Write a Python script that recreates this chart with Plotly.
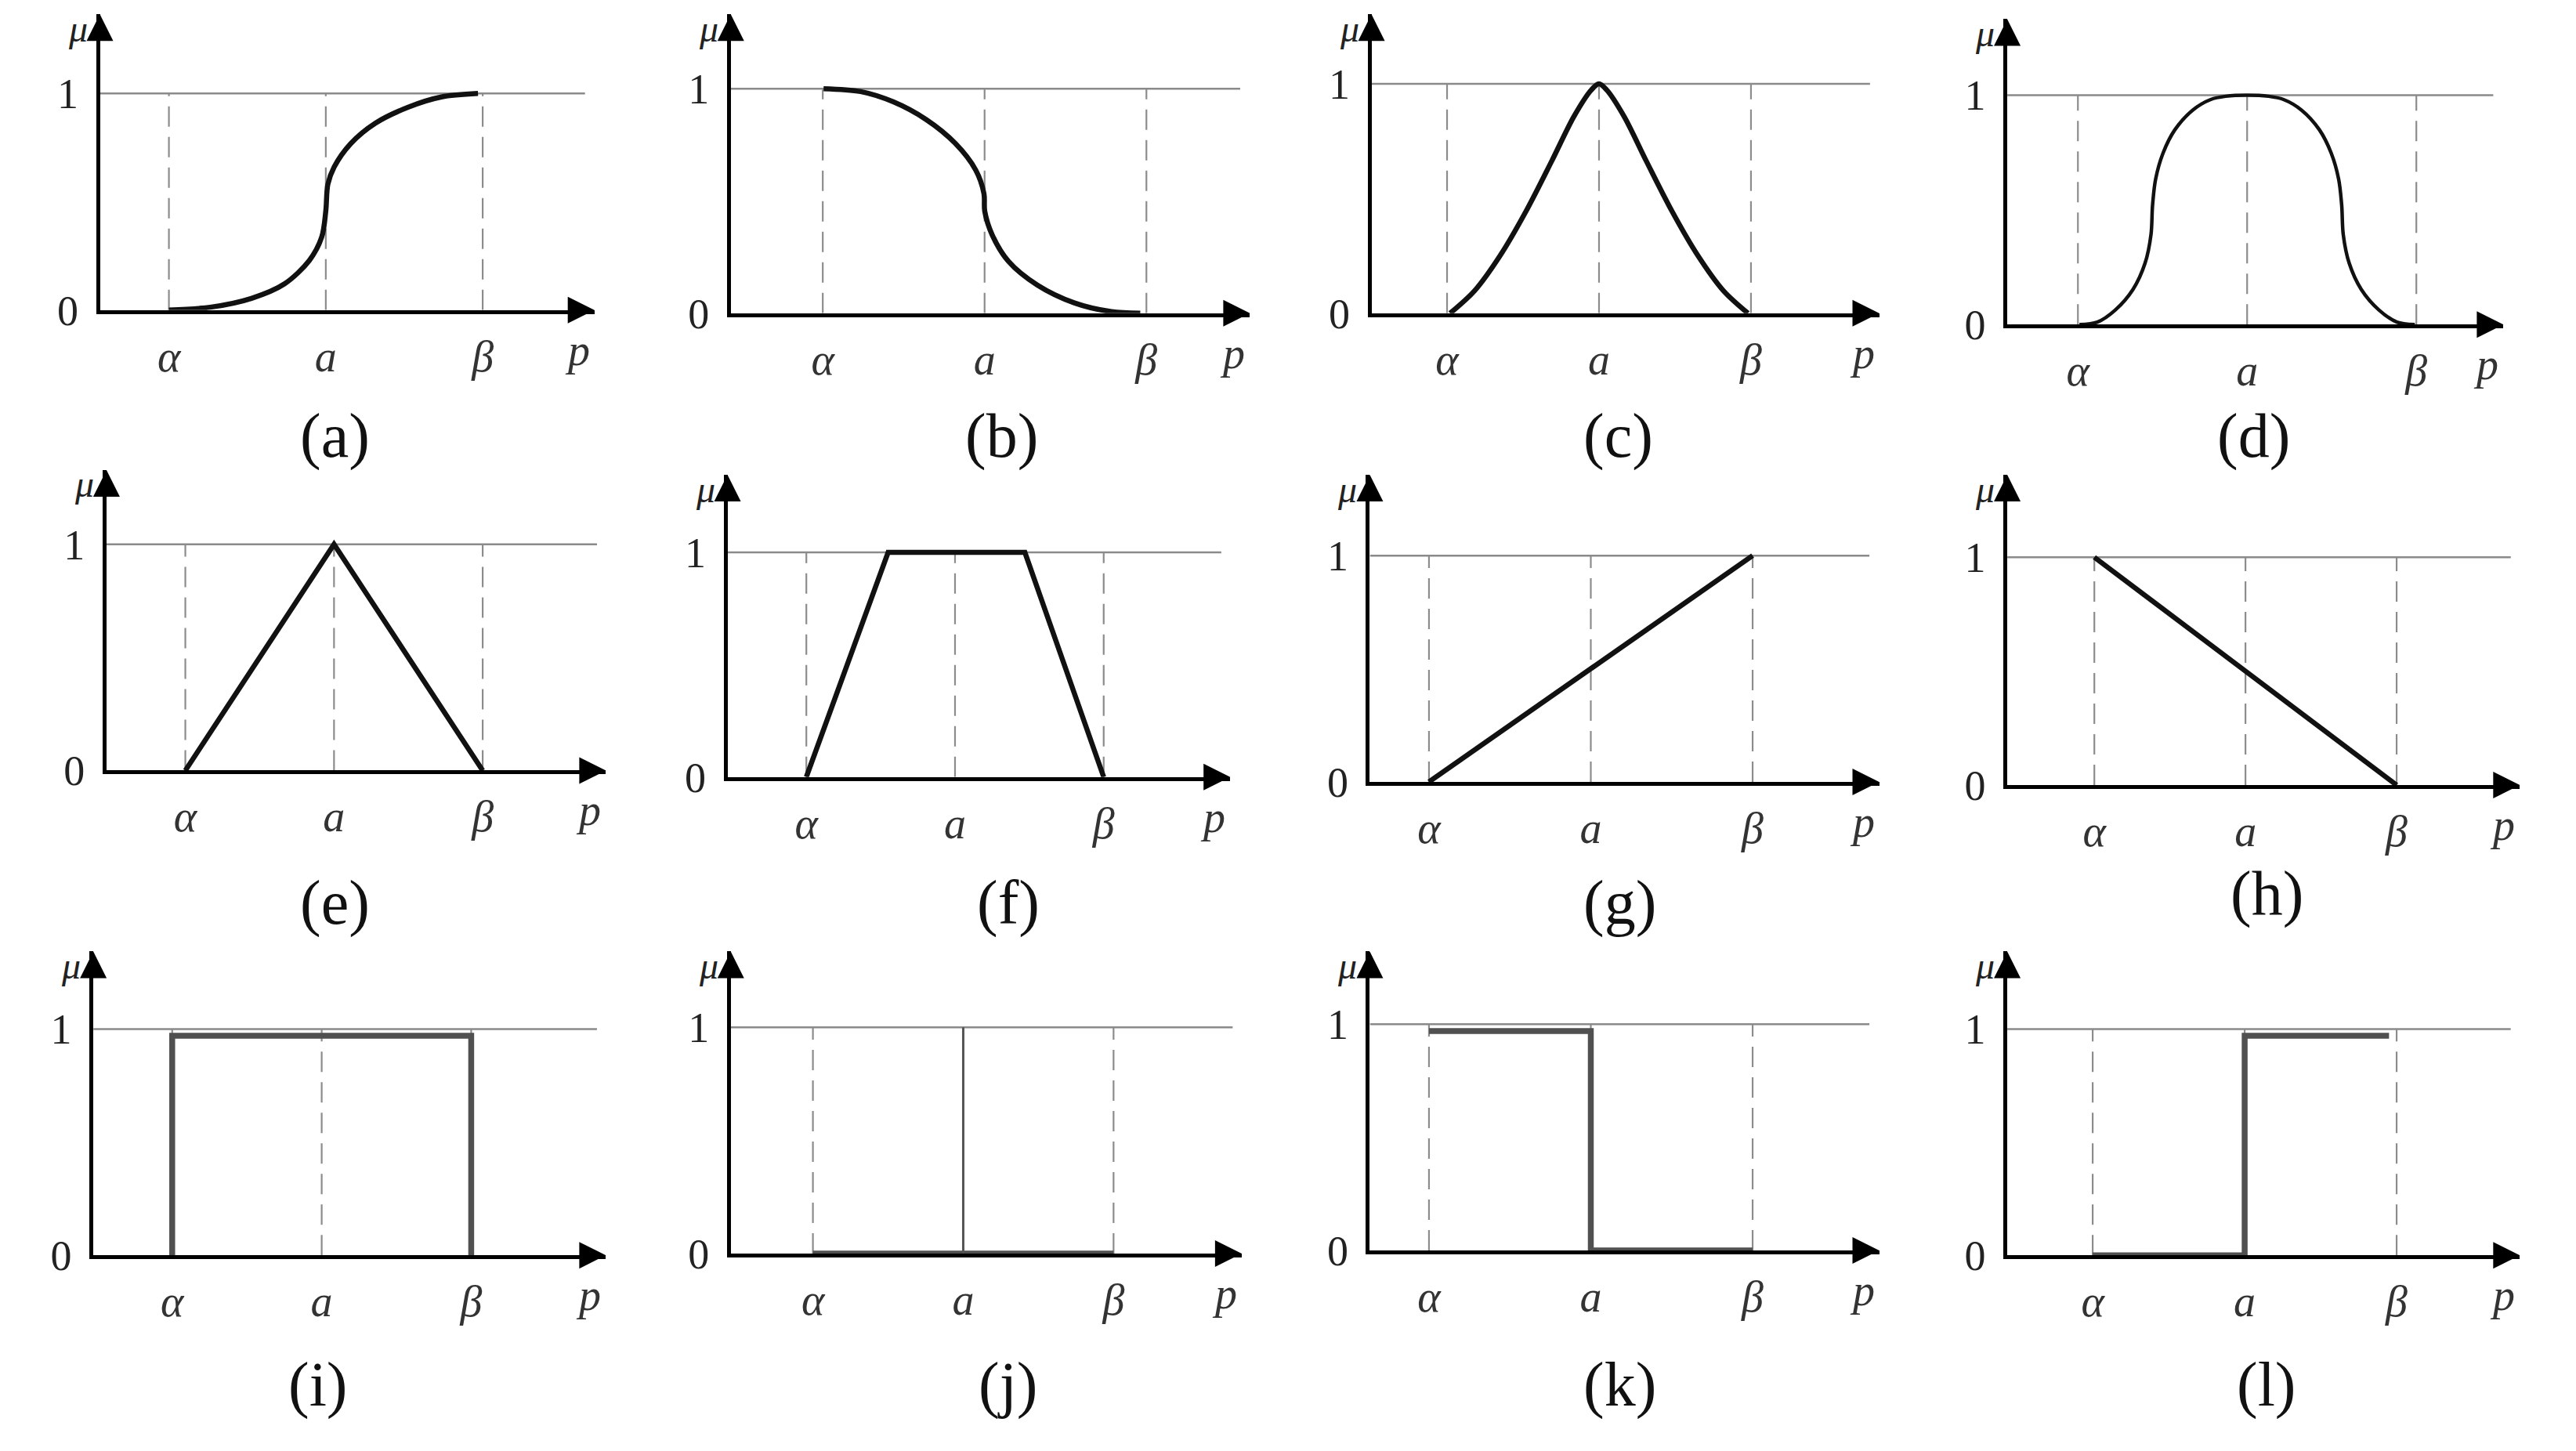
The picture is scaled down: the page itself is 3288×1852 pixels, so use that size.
import plotly.graph_objects as go

# Puntos de referencia en el eje p
tick_vals = [1, 2, 3]
tick_text = ['α', 'a', 'β']
panel_names = ['a', 'b', 'c', 'd', 'e', 'f', 'g', 'h', 'i', 'j', 'k', 'l']

# Funciones de pertenencia
a_x = [1.0, 1.263, 1.526, 1.737, 1.895, 1.974, 2.0, 2.013, 2.053, 2.158, 2.316, 2.526, 2.737, 2.97]
a_y = [0, 0.013, 0.054, 0.121, 0.229, 0.337, 0.458, 0.58, 0.66, 0.768, 0.863, 0.937, 0.984, 1.0]
b_x = [1.005, 1.234, 1.437, 1.640, 1.818, 1.945, 1.996, 2.001, 2.047, 2.149, 2.327, 2.555, 2.784, 2.962]
b_y = [1.0, 0.987, 0.941, 0.862, 0.757, 0.638, 0.533, 0.454, 0.349, 0.230, 0.125, 0.046, 0.007, 0]
c_x = [1.02, 1.18, 1.35, 1.52, 1.69, 1.835, 1.95, 2.0, 2.05, 2.165, 2.31, 2.48, 2.65, 2.82, 2.98]
c_y = [0, 0.097, 0.252, 0.445, 0.665, 0.858, 0.974, 1.0, 0.974, 0.858, 0.665, 0.445, 0.252, 0.097, 0]
d_x = [1.009, 1.115, 1.220, 1.326, 1.397, 1.432, 1.441, 1.459, 1.503, 1.573, 1.679, 1.785, 1.873, 2.0,
       2.127, 2.215, 2.321, 2.427, 2.497, 2.541, 2.559, 2.568, 2.603, 2.674, 2.78, 2.885, 2.991]
d_y = [0, 0.011, 0.063, 0.154, 0.268, 0.393, 0.519, 0.633, 0.747, 0.849, 0.935, 0.981, 0.995, 1.0,
       0.995, 0.981, 0.935, 0.849, 0.747, 0.633, 0.519, 0.393, 0.268, 0.154, 0.063, 0.011, 0]
e_x = [1, 2, 3]
e_y = [0, 1, 0]
f_x = [1, 1.55, 2.47, 3]
f_y = [0, 1, 1, 0]
g_x = [1, 3]
g_y = [0, 1]
h_x = [1, 3]
h_y = [1, 0]
i_x = [1, 1, 3, 3]
i_y = [0, 0.97, 0.97, 0]
j_x = [1, 3]
j_y = [0, 0]
j_spike_x = [2, 2]
j_spike_y = [0, 1]
k_x = [1, 2, 2, 3]
k_y = [0.97, 0.97, 0, 0]
l_x = [1, 2, 2, 2.95]
l_y = [0, 0, 0.97, 0.97]

curves = {
    'a': (a_x, a_y), 'b': (b_x, b_y), 'c': (c_x, c_y), 'd': (d_x, d_y),
    'e': (e_x, e_y), 'f': (f_x, f_y), 'g': (g_x, g_y), 'h': (h_x, h_y),
    'i': (i_x, i_y), 'j': (j_x, j_y), 'k': (k_x, k_y), 'l': (l_x, l_y),
}

# Geometria de cada panel (px en imagen 1568x883):
# origen x, fin flecha x, alfa px, beta px, origen y, linea 1 y, tope y, titulo x, titulo y
GEOM = {
    'a': (57, 358, 99, 290, 188, 54, 5, 200, 266),
    'b': (441, 757, 497, 694, 190, 51, 5, 606, 266),
    'c': (831, 1140, 877, 1062, 190, 48, 5, 981, 266),
    'd': (1218, 1520, 1261, 1467, 197, 55, 8, 1368, 266),
    'e': (61, 365, 109, 290, 473, 333, 287, 200, 555),
    'f': (439, 745, 487, 668, 477, 338, 290, 610, 555),
    'g': (830, 1140, 866, 1063, 480, 340, 290, 982, 555),
    'h': (1218, 1530, 1271, 1455, 482, 341, 290, 1376, 549),
    'i': (53, 365, 101, 283, 773, 633, 585, 190, 853),
    'j': (441, 752, 491, 674, 772, 632, 585, 610, 853),
    'k': (830, 1140, 866, 1063, 770, 630, 585, 982, 853),
    'l': (1218, 1530, 1270, 1455, 773, 633, 585, 1376, 853),
}
W0, H0 = 1568, 883
SERIF = 'Liberation Serif'
SMOOTH = {'a', 'b', 'c', 'd'}
GRAY_STEP = {'i', 'j', 'k', 'l'}

fig = go.Figure()
layout = {}
annotations = []

for n, name in enumerate(panel_names, start=1):
    ox, ex, apx, bpx, oy, one_y, top_y, cx, cy = GEOM[name]
    unit = (bpx - apx) / 2
    x0 = 1 - (apx - ox) / unit
    x1 = 3 + (ex - bpx) / unit
    ytop = (oy - top_y) / (oy - one_y)
    xa = 'x' if n == 1 else f'x{n}'
    ya = 'y' if n == 1 else f'y{n}'

    # linea mu = 1
    fig.add_trace(go.Scatter(x=[x0, x1 - 0.06], y=[1, 1], mode='lines', xaxis=xa, yaxis=ya,
                             line=dict(color='#8a8a8a', width=2.5), hoverinfo='skip'))
    # guias discontinuas
    gx, gy = [], []
    for v in tick_vals:
        gx += [v, v, None]
        gy += [0, 1, None]
    fig.add_trace(go.Scatter(x=gx, y=gy, mode='lines', xaxis=xa, yaxis=ya,
                             line=dict(color='#8c8c8c', width=2.2, dash='26px,13px'),
                             hoverinfo='skip'))
    # curva
    cxs, cys = curves[name]
    if name in GRAY_STEP:
        lc, lw = '#505050', 7.5
    elif name == 'd':
        lc, lw = '#111111', 4.5
    else:
        lc, lw = '#111111', 6.5
    fig.add_trace(go.Scatter(x=cxs, y=cys, mode='lines', xaxis=xa, yaxis=ya,
                             line=dict(color=lc, width=lw,
                                       shape='spline' if name in SMOOTH else 'linear',
                                       smoothing=0.9),
                             cliponaxis=False))
    if name == 'j':
        fig.add_trace(go.Scatter(x=j_spike_x, y=j_spike_y, mode='lines', xaxis=xa, yaxis=ya,
                                 line=dict(color='#555555', width=3), cliponaxis=False))
    # flechas
    fig.add_trace(go.Scatter(x=[x1], y=[0], mode='markers', xaxis=xa, yaxis=ya,
                             marker=dict(symbol='arrow-right', size=34, color='black',
                                         line=dict(width=0)),
                             cliponaxis=False, hoverinfo='skip'))
    fig.add_trace(go.Scatter(x=[x0], y=[ytop], mode='markers', xaxis=xa, yaxis=ya,
                             marker=dict(symbol='arrow-up', size=34, color='black',
                                         line=dict(width=0)),
                             cliponaxis=False, hoverinfo='skip'))

    key_x = 'xaxis' if n == 1 else f'xaxis{n}'
    key_y = 'yaxis' if n == 1 else f'yaxis{n}'
    layout[key_x] = dict(
        domain=[ox / W0, ex / W0], range=[x0, x1], anchor=ya,
        showline=True, linecolor='black', linewidth=4.5, showgrid=False, zeroline=False,
        tickvals=tick_vals, ticktext=[f'<i>{t}</i>' for t in tick_text], ticks='',
        ticklabelstandoff=6, tickfont=dict(family=SERIF, size=56, color='#333333'),
    )
    layout[key_y] = dict(
        domain=[1 - oy / H0, 1 - top_y / H0], range=[0, ytop], anchor=xa,
        showline=True, linecolor='black', linewidth=4.5, showgrid=False, zeroline=False,
        tickvals=[0, 1], ticktext=['0', '1'], ticks='',
        ticklabelstandoff=12, tickfont=dict(family=SERIF, size=54, color='#222222'),
    )
    annotations.append(dict(x=x0, y=ytop, xref=xa, yref=ya, text='<i>μ</i>', showarrow=False,
                            xanchor='right', yanchor='middle', xshift=-14, yshift=-18,
                            font=dict(family=SERIF, size=48, color='#222222')))
    annotations.append(dict(x=x1, y=0, xref=xa, yref=ya, text='<i>p</i>', showarrow=False,
                            xanchor='center', yanchor='top', xshift=-22, yshift=-18,
                            font=dict(family=SERIF, size=56, color='#333333')))
    annotations.append(dict(x=cx / W0, y=1 - cy / H0, xref='paper', yref='paper',
                            text=f'({name})', showarrow=False,
                            xanchor='center', yanchor='middle',
                            font=dict(family=SERIF, size=80, color='#111111')))

fig.update_layout(
    width=3288, height=1852,
    margin=dict(l=0, r=0, t=0, b=0),
    paper_bgcolor='white', plot_bgcolor='white',
    showlegend=False,
    annotations=annotations,
    **layout,
)

fig.write_html("out.html")
